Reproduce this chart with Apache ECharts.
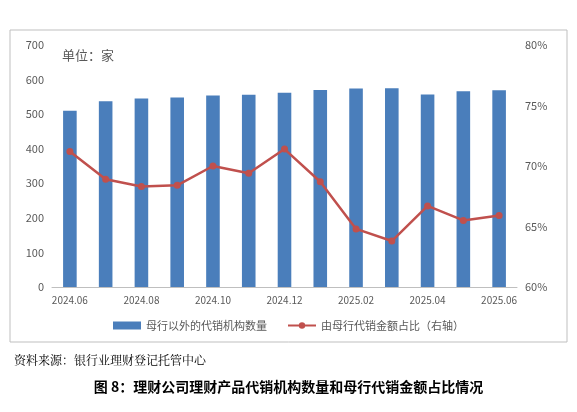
<!DOCTYPE html>
<html><head><meta charset="utf-8">
<script src="https://cdn.jsdelivr.net/npm/echarts@6/dist/echarts.min.js"></script>
<style>body{margin:0;background:#fff}#c{width:577px;height:412px}</style>
</head><body><div id="c"></div>
<script>
const categories=['2024.06','2024.07','2024.08','2024.09','2024.10','2024.11','2024.12','2025.01','2025.02','2025.03','2025.04','2025.05','2025.06'];
const barValues=[510,537,545,548,554,556,562,570,574,575,557,566,569];
const lineValues=[71.2,68.9,68.3,68.4,70.0,69.4,71.4,68.7,64.8,63.8,66.7,65.5,65.9];
const chart=echarts.init(document.getElementById('c'));
const f='"Noto Sans CJK SC", sans-serif';
chart.setOption({
 animation:false,
 textStyle:{fontFamily:f},
 graphic:[
  {type:'rect',shape:{x:10,y:30,width:557,height:312},style:{fill:'none',stroke:'#bfbfbf',lineWidth:1}},
  {type:'text',left:62,top:49,style:{text:'单位：家',fontSize:13,fill:'#595959',fontFamily:f}},
  {type:'text',left:14,top:354,style:{text:'资料来源：银行业理财登记托管中心',fontSize:12,fill:'#000',fontFamily:'"Noto Serif CJK SC", "Noto Sans CJK SC", serif'}},
  {type:'text',left:'center',top:380,style:{text:'图 8：理财公司理财产品代销机构数量和母行代销金额占比情况',fontSize:14,fontWeight:'bold',fill:'#000',fontFamily:f}}
 ],
 legend:{bottom:76,itemGap:20,textStyle:{fontSize:11,color:'#595959'},
  data:[{name:'母行以外的代销机构数量',icon:'rect'},{name:'由母行代销金额占比（右轴）'}],itemWidth:28,itemHeight:8},
 grid:{left:52,right:60,top:45,bottom:125},
 xAxis:{type:'category',data:categories,axisTick:{show:false},
  axisLine:{lineStyle:{color:'#bfbfbf'}},
  axisLabel:{interval:1,color:'#595959',fontSize:10}},
 yAxis:[
  {type:'value',min:0,max:700,interval:100,splitLine:{show:false},axisLine:{show:false},axisTick:{show:false},axisLabel:{color:'#595959',fontSize:11}},
  {type:'value',min:60,max:80,interval:5,splitLine:{show:false},axisLine:{show:false},axisTick:{show:false},axisLabel:{color:'#595959',fontSize:11,formatter:'{value}%'}}
 ],
 series:[
  {name:'母行以外的代销机构数量',type:'bar',data:barValues,barWidth:'38%',itemStyle:{color:'#4a7ebb'}},
  {name:'由母行代销金额占比（右轴）',type:'line',yAxisIndex:1,data:lineValues,symbol:'circle',symbolSize:7,
   lineStyle:{color:'#c0504d',width:2.5},itemStyle:{color:'#c0504d'}}
 ]
});
</script></body></html>
